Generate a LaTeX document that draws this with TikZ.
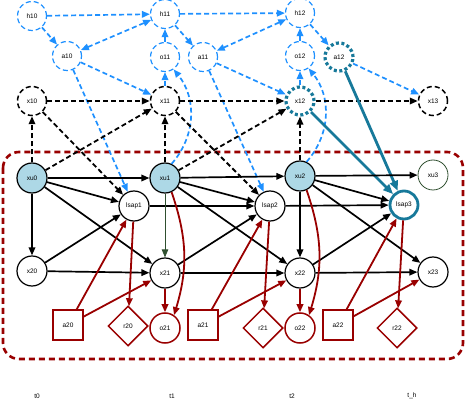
\documentclass[tikz,border=0pt]{standalone}
\usepackage{fontspec}
\setmainfont{Liberation Sans}
\usetikzlibrary{arrows.meta,shapes.geometric}
\definecolor{hblue}{HTML}{1E90FF}
\definecolor{tealc}{HTML}{17799A}
\definecolor{dred}{HTML}{990000}
\definecolor{ublue}{HTML}{ADD8E6}
\definecolor{dgreen}{HTML}{2F4F2F}

\begin{document}
\begin{tikzpicture}[x=1pt,y=-1pt,every node/.style={font=\fontsize{6.5}{7}\selectfont,inner sep=0pt},
  >={Triangle[length=8pt,width=6.5pt]}]
   \tikzstyle{hn}=[circle,minimum size=29pt,draw=hblue,line width=1.2pt,dash pattern=on 5pt off 3pt];
   \tikzstyle{xn}=[circle,minimum size=29pt,draw=black,line width=1.5pt,dash pattern=on 5pt off 3pt];
   \tikzstyle{tn}=[circle,minimum size=28pt,draw=tealc,line width=3.2pt,dash pattern=on 3pt off 2.5pt];
   \tikzstyle{un}=[circle,minimum size=30pt,draw=black,line width=1.2pt,fill=ublue];
   \tikzstyle{pn}=[circle,minimum size=30pt,draw=black,line width=1.2pt];
   \tikzstyle{rs}=[rectangle,minimum size=30pt,draw=dred,line width=1.5pt];
   \tikzstyle{rr}=[diamond,minimum size=40pt,draw=dred,line width=1.5pt];
   \tikzstyle{ro}=[circle,minimum size=30pt,draw=dred,line width=1.5pt];
   \tikzstyle{bl}=[->,draw=hblue,line width=1.7pt,dash pattern=on 5pt off 3pt];
   \tikzstyle{kd}=[->,draw=black,line width=1.8pt,dash pattern=on 5pt off 3pt];
   \tikzstyle{ks}=[->,draw=black,line width=1.7pt];
   \tikzstyle{rd}=[->,draw=dred,line width=1.8pt];
   \tikzstyle{tl}=[-{Triangle[length=10pt,width=8pt]},draw=tealc,line width=2.8pt];
   \useasboundingbox (0,0) rectangle (466,403);
   % frame
   \draw[dred,line width=2.6pt,dash pattern=on 6pt off 4pt,rounded corners=16pt] (3,152) rectangle (463,359);
   % upper layers
   \node[hn] (h10) at (32,16)  {h10};
   \node[hn] (h11) at (165,14) {h11};
   \node[hn] (h12) at (300,13) {h12};
   \node[hn] (a10) at (67,56)  {a10};
   \node[hn] (o11) at (165,57) {o11};
   \node[hn] (a11) at (203,57) {a11};
   \node[hn] (o12) at (300,56) {o12};
   \node[tn] (a12) at (339,57) {a12};
   \node[xn] (x10) at (32,101)  {x10};
   \node[xn] (x11) at (165,101) {x11};
   \node[tn] (x12) at (300,101) {x12};
   \node[xn] (x13) at (433,101) {x13};
   % inner layers
   \node[un] (xu0) at (32,178)  {xu0};
   \node[un] (xu1) at (165,178) {xu1};
   \node[un] (xu2) at (300,176) {xu2};
   \node[circle,minimum size=30pt,draw=dgreen,line width=0.8pt] (xu3) at (433,175) {xu3};
   \node[pn] (lsap1) at (134,206) {lsap1};
   \node[pn] (lsap2) at (270,206) {lsap2};
   \node[circle,minimum size=28pt,draw=tealc,line width=2.8pt] (lsap3) at (404,205) {lsap3};
   \node[pn] (x20) at (32,271)  {x20};
   \node[pn] (x21) at (165,273) {x21};
   \node[pn] (x22) at (300,273) {x22};
   \node[pn] (x23) at (433,272) {x23};
   \node[rs] (a20) at (68,325)  {a20};
   \node[rr] (r20) at (128,326) {r20};
   \node[ro] (o21) at (165,328) {o21};
   \node[rs] (a21) at (203,325) {a21};
   \node[rr] (r21) at (263,328) {r21};
   \node[ro] (o22) at (300,328) {o22};
   \node[rs] (a22) at (338,325) {a22};
   \node[rr] (r22) at (397,328) {r22};
   % time axis
   \node (t0) at (37,396)  {t0};
   \node (t1) at (172,396) {t1};
   \node (t2) at (292,396) {t2};
   \node (th) at (412,396) {t\_h};
   % blue dashed edges
   \draw[bl] (h10) -- (h11);
   \draw[bl] (h11) -- (h12);
   \draw[bl] (h10) -- (a10);
   \draw[bl] (h11) -- (a11);
   \draw[bl] (h12) -- (a12);
   \draw[bl,<->] (a10) -- (h11);
   \draw[bl,<->] (a11) -- (h12);
   \draw[bl] (o11) -- (h11);
   \draw[bl] (o12) -- (h12);
   \draw[bl] (x11) -- (o11);
   \draw[bl] (x12) -- (o12);
   \draw[bl] (a10) -- (x11);
   \draw[bl] (a11) -- (x12);
   \draw[bl] (a12) -- (x13);
   \draw[bl] (a10) -- (lsap1);
   \draw[bl] (a11) -- (lsap2);
   \draw[bl] (xu1.65) to[bend right=40] (o11.-55);
   \draw[bl] (xu2.65) to[bend right=40] (o12.-55);
   % black dashed edges
   \draw[kd] (x10) -- (x11);
   \draw[kd] (x11) -- (x12);
   \draw[kd] (x12) -- (x13);
   \draw[kd] (xu0) -- (x10);
   \draw[kd] (xu1) -- (x11);
   \draw[kd] (xu2) -- (x12);
   \draw[kd] (xu0) -- (x11);
   \draw[kd] (xu1) -- (x12);
   \draw[kd] (x10) -- (lsap1);
   \draw[kd] (x11) -- (lsap2);
   % teal edges
   \draw[tl] (x12) -- (lsap3);
   \draw[tl] (a12) -- (lsap3);
   % black solid edges
   \draw[ks] (xu0) -- (xu1);
   \draw[ks] (xu1) -- (xu2);
   \draw[ks] (xu2) -- (xu3);
   \draw[ks] (xu0) -- (lsap1);
   \draw[ks] (xu1) -- (lsap2);
   \draw[ks] (xu2) -- (lsap3);
   \draw[ks] (lsap1) -- (lsap2);
   \draw[ks] (lsap2) -- (lsap3);
   \draw[ks] (xu0) -- (x20);
   \draw[->,draw=dgreen,line width=0.8pt] (xu1) -- (x21);
   \draw[ks] (xu2) -- (x22);
   \draw[ks] (xu0) -- (x21);
   \draw[ks] (xu1) -- (x22);
   \draw[ks] (xu2) -- (x23);
   \draw[ks] (x20) -- (lsap1);
   \draw[ks] (x21) -- (lsap2);
   \draw[ks] (x22) -- (lsap3);
   \draw[ks] (x20) -- (x21);
   \draw[ks] (x21) -- (x22);
   \draw[ks] (x22) -- (x23);
   % red edges
   \draw[rd] (a20) -- (lsap1);
   \draw[rd] (a21) -- (lsap2);
   \draw[rd] (a22) -- (lsap3);
   \draw[rd] (a20) -- (x21);
   \draw[rd] (a21) -- (x22);
   \draw[rd] (a22) -- (x23);
   \draw[rd] (lsap1) -- (r20);
   \draw[rd] (lsap2) -- (r21);
   \draw[rd] (lsap3) -- (r22);
   \draw[rd] (x21) -- (o21);
   \draw[rd] (x22) -- (o22);
   \draw[rd] (xu1.-65) to[bend left=18] (o21.55);
   \draw[rd] (xu2.-65) to[bend left=18] (o22.55);
  \end{tikzpicture}
\end{document}
